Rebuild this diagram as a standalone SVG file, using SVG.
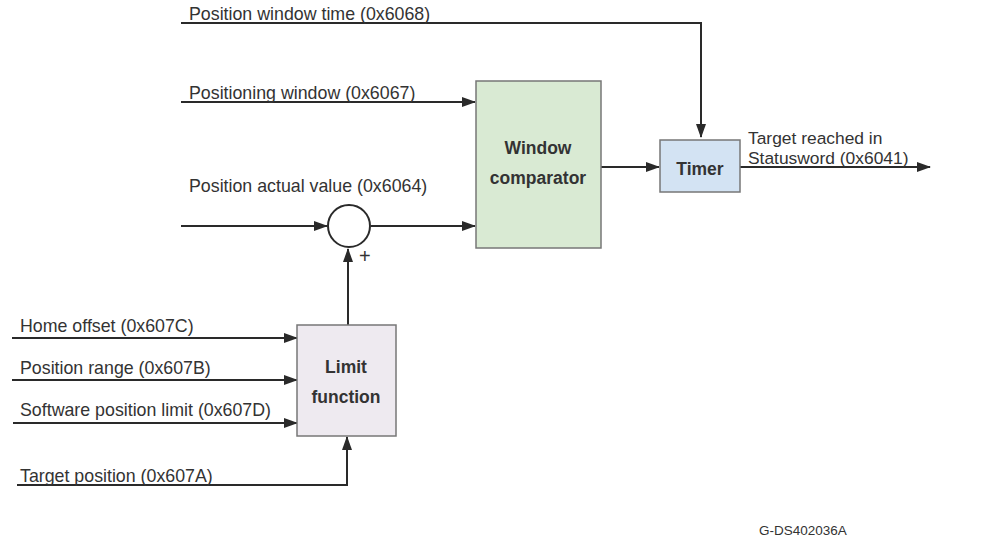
<svg xmlns="http://www.w3.org/2000/svg" width="994" height="551" viewBox="0 0 994 551">
<style>
.lbl{font-family:"Liberation Sans",Arial,sans-serif;font-size:17.8px;fill:#333}
.bold{font-family:"Liberation Sans",Arial,sans-serif;font-size:17.5px;font-weight:bold;fill:#333;text-anchor:middle}
.ln{fill:none;stroke:#2a2a2a;stroke-width:2}
.box{stroke:#777;stroke-width:1.5}
</style>
<defs>
<marker id="ar" markerWidth="14" markerHeight="10" refX="13" refY="5" orient="auto" markerUnits="userSpaceOnUse">
<path d="M0,0 L14,5 L0,10 Z" fill="#2a2a2a"/>
</marker>
</defs>
<rect width="994" height="551" fill="#fff"/>
<g id="connectors">
<path class="ln" d="M181,23 H701 V137" marker-end="url(#ar)"/>
<path class="ln" d="M181,102 H475" marker-end="url(#ar)"/>
<path class="ln" d="M181,226 H327" marker-end="url(#ar)"/>
<path class="ln" d="M371,226 H475" marker-end="url(#ar)"/>
<path class="ln" d="M348,325 V249" marker-end="url(#ar)"/>
<path class="ln" d="M601,167 H659" marker-end="url(#ar)"/>
<path class="ln" d="M740,167 H930" marker-end="url(#ar)"/>
<path class="ln" d="M12,338 H297" marker-end="url(#ar)"/>
<path class="ln" d="M12,380 H297" marker-end="url(#ar)"/>
<path class="ln" d="M13,423 H297" marker-end="url(#ar)"/>
<path class="ln" d="M17,485 H347 V437" marker-end="url(#ar)"/>
</g>
<g id="labels">
<text class="lbl" x="748" y="144" style="font-size:17.4px">Target reached in</text>
<text class="lbl" x="748" y="164" style="font-size:17.4px">Statusword (0x6041)</text>
<text class="lbl" x="189" y="20">Position window time (0x6068)</text>
<text class="lbl" x="189" y="99">Positioning window (0x6067)</text>
<text class="lbl" x="189" y="192">Position actual value (0x6064)</text>
<text class="lbl" x="20" y="332">Home offset (0x607C)</text>
<text class="lbl" x="20" y="374">Position range (0x607B)</text>
<text class="lbl" x="20" y="416">Software position limit (0x607D)</text>
<text class="lbl" x="20" y="482">Target position (0x607A)</text>
<text class="lbl" x="359" y="263" style="font-size:20px">+</text>
<text class="lbl" x="759" y="535" style="font-size:13.5px">G-DS402036A</text>
</g>
<g id="sum">
<circle cx="349" cy="226" r="21" fill="#fff" stroke="#2a2a2a" stroke-width="2"/>
</g>
<g id="window-comparator">
<rect class="box" x="476" y="81" width="125" height="167" fill="#d9ead3"/>
<text class="bold" x="538" y="154">Window</text>
<text class="bold" x="538" y="184">comparator</text>
</g>
<g id="timer">
<rect class="box" x="660" y="140" width="80" height="52" fill="#d3e3f3"/>
<text class="bold" x="700" y="175">Timer</text>
</g>
<g id="limit-function">
<rect class="box" x="297" y="325" width="99" height="111" fill="#eeeaf0"/>
<text class="bold" x="346" y="373">Limit</text>
<text class="bold" x="346" y="403">function</text>
</g>
</svg>
